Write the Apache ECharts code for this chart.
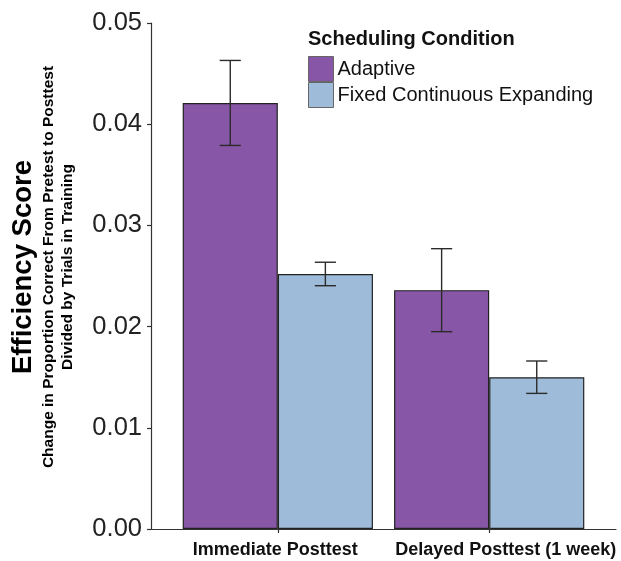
<!DOCTYPE html>
<html>
<head>
<meta charset="utf-8">
<script src="https://cdn.jsdelivr.net/npm/echarts@6/dist/echarts.min.js"></script>
<style>
  html, body { margin: 0; padding: 0; background: #fff; }
  #chart { width: 621px; height: 561px; }
</style>
</head>
<body>
<div id="chart"></div>
<script>
// ---- data ----
const categories = ['Immediate Posttest', 'Delayed Posttest (1 week)'];
const seriesNames = ['Adaptive', 'Fixed Continuous Expanding'];
const adaptive = [0.0421, 0.0236];
const adaptiveErr = [0.0042, 0.0041];
const fixed = [0.0252, 0.0150];
const fixedErr = [0.00116, 0.0016];
const yTicks = [0, 0.01, 0.02, 0.03, 0.04, 0.05];

const FONT = 'Liberation Sans, Arial, Helvetica, sans-serif';
const positions = categories.map((c, i) => i + 1);
const dodge = 0.225;

const barData = vals => vals.map((v, i) => [positions[i], v]);
const errData = (vals, errs, off) => vals.map((v, i) => [positions[i] + off, v - errs[i], v + errs[i]]);

function errorBar(params, api) {
  const x = api.value(0), lo = api.value(1), hi = api.value(2);
  const top = api.coord([x, hi]);
  const bot = api.coord([x, lo]);
  const half = api.size([0.1, 0])[0] / 2;
  const style = { stroke: '#2b2b2b', lineWidth: 1.4 };
  return {
    type: 'group',
    children: [
      { type: 'line', shape: { x1: top[0], y1: top[1], x2: bot[0], y2: bot[1] }, style },
      { type: 'line', shape: { x1: top[0] - half, y1: top[1], x2: top[0] + half, y2: top[1] }, style },
      { type: 'line', shape: { x1: bot[0] - half, y1: bot[1], x2: bot[0] + half, y2: bot[1] }, style }
    ]
  };
}

const chart = echarts.init(document.getElementById('chart'), null, { renderer: 'canvas' });
chart.setOption({
  animation: false,
  backgroundColor: '#fff',
  title: {
    text: 'Scheduling Condition',
    left: 308, top: 29, padding: 0,
    textStyle: { fontFamily: FONT, fontSize: 20, fontWeight: 'bold', color: '#111' }
  },
  legend: {
    data: seriesNames,
    orient: 'vertical',
    left: 308, top: 56, padding: 0,
    itemWidth: 25, itemHeight: 25, itemGap: 0,
    icon: 'rect',
    itemStyle: { borderColor: '#666', borderWidth: 1 },
    textStyle: { fontFamily: FONT, fontSize: 20, color: '#111', padding: [0, 0, 0, -1] }
  },
  grid: { left: 151, right: 5, top: 23, bottom: 32, containLabel: false },
  xAxis: {
    type: 'value',
    min: 0.4, max: 2.6,
    splitLine: { show: false },
    axisLine: { show: true, onZero: false, lineStyle: { color: '#333', width: 1.2 } },
    axisTick: { show: true, length: 4, customValues: positions, lineStyle: { color: '#333', width: 1.2 } },
    axisLabel: {
      customValues: positions,
      margin: 12,
      formatter: v => {
        const i = Math.round(v) - 1;
        return i === 0 ? '{a|' + categories[i] + '}' : '{b|' + categories[i] + '}';
      },
      rich: {
        a: { fontFamily: FONT, fontSize: 18, fontWeight: 'bold', color: '#111', padding: [0, 5, 0, 0] },
        b: { fontFamily: FONT, fontSize: 18, fontWeight: 'bold', color: '#111', padding: [0, 0, 0, 33] }
      }
    }
  },
  yAxis: {
    type: 'value',
    min: 0, max: 0.05, interval: 0.01,
    splitLine: { show: false },
    axisLine: { show: true, lineStyle: { color: '#333', width: 1.2 } },
    axisTick: { show: true, length: 4, lineStyle: { color: '#333', width: 1.2 } },
    axisLabel: {
      margin: 9,
      fontFamily: FONT, fontSize: 25.5, color: '#222',
      formatter: v => yTicks.includes(+v.toFixed(2)) ? v.toFixed(2) : ''
    },
    name: '{t|Efficiency Score}\n{s|Change in Proportion Correct From Pretest to Posttest}\n{s|Divided by Trials in Training}',
    nameLocation: 'middle',
    nameRotate: 90,
    nameGap: 74,
    nameTextStyle: {
      align: 'center',
      padding: [0, 0, 0, 18],
      rich: {
        t: { fontFamily: FONT, fontSize: 27.5, fontWeight: 'bold', color: '#000', lineHeight: 32, align: 'center' },
        s: { fontFamily: FONT, fontSize: 15.5, fontWeight: 'bold', color: '#000', lineHeight: 19, align: 'center' }
      }
    }
  },
  series: [
    {
      name: seriesNames[0], type: 'bar', data: barData(adaptive),
      barWidth: '45%', barGap: '0%',
      itemStyle: { color: '#8856a7', borderColor: '#222', borderWidth: 1.2 }
    },
    {
      name: seriesNames[1], type: 'bar', data: barData(fixed),
      barWidth: '45%', barGap: '0%',
      itemStyle: { color: '#9ebcda', borderColor: '#222', borderWidth: 1.2 }
    },
    {
      type: 'custom', renderItem: errorBar, data: errData(adaptive, adaptiveErr, -dodge),
      encode: { x: 0, y: [1, 2] }, z: 5, silent: true
    },
    {
      type: 'custom', renderItem: errorBar, data: errData(fixed, fixedErr, dodge),
      encode: { x: 0, y: [1, 2] }, z: 5, silent: true
    }
  ]
});
</script>
</body>
</html>
